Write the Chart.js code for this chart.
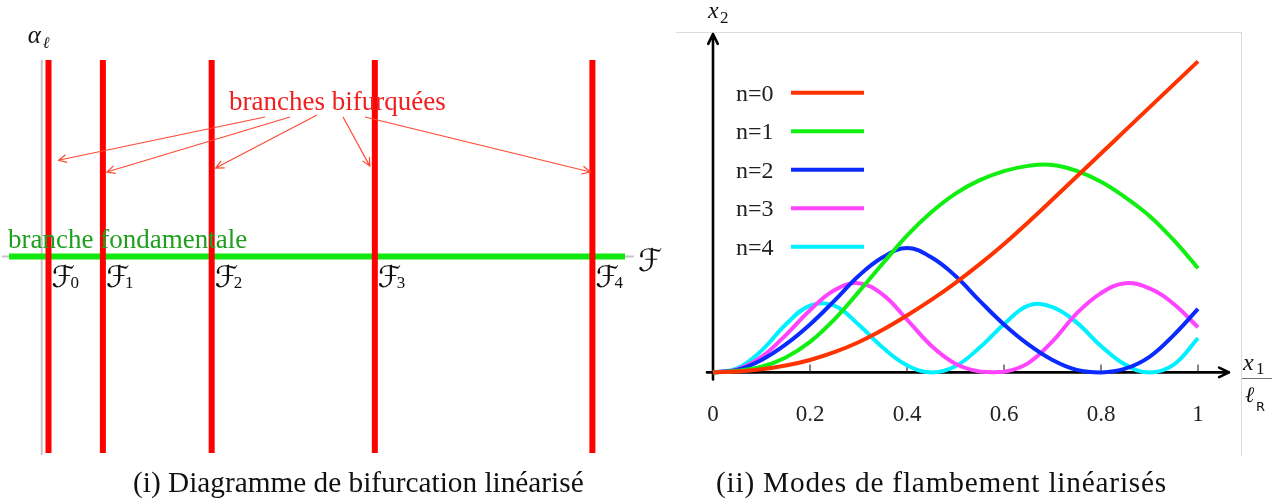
<!DOCTYPE html>
<html lang="fr">
<head>
<meta charset="utf-8">
<title>Bifurcation et modes de flambement</title>
<script src="https://cdn.jsdelivr.net/npm/chart.js@4.4.1/dist/chart.umd.min.js"></script>
<style>
  html, body { margin: 0; padding: 0; background: #fff; }
  body { width: 1282px; height: 504px; position: relative; overflow: hidden; }
  #bifurcation { position: absolute; left: 0; top: 0; }
  #modes { position: absolute; left: 640px; top: 0; }
  .frame { position: absolute; left: 676px; top: 32px; width: 565px; height: 423px; border-top: 1px solid #dcdcdc; border-right: 1px solid #dcdcdc; }
  .caption { position: absolute; top: 468px; font: 29.3px/1 "Liberation Serif", serif; color: #111; white-space: nowrap; }
</style>
</head>
<body>
<canvas id="bifurcation" width="680" height="470"></canvas>
<div class="frame"></div>
<canvas id="modes" width="642" height="470"></canvas>
<div class="caption" style="left:133px">(i) Diagramme de bifurcation linéarisé</div>
<div class="caption" style="left:716px; letter-spacing:0.8px">(ii) Modes de flambement linéarisés</div>

<script>
const criticalLoads = [0.25, 2.25, 6.25, 12.25, 20.25];
const loadIndices = ["0", "1", "2", "3", "4"];
// étendue des branches bifurquées (alpha) et de la branche fondamentale (F)
const alphaRange = [-1, 1];
const fundamentalRange = [-1.2, 21.45];
// hauteur où les flèches touchent chaque branche bifurquée
const arrowAlpha = [0.49, 0.43, 0.45, 0.46, 0.43];

// (ii) modes de flambement, x1 / lR
const x1 = [0, 0.05, 0.1, 0.15, 0.2, 0.25, 0.3, 0.35, 0.4, 0.45, 0.5, 0.55, 0.6, 0.65, 0.7, 0.75, 0.8, 0.85, 0.9, 0.95, 1];
const mode0 = [0, 0.003, 0.01, 0.022, 0.04, 0.065, 0.097, 0.137, 0.183, 0.233, 0.288, 0.348, 0.413, 0.483, 0.556, 0.63, 0.704, 0.778, 0.852, 0.926, 1.0];
const mode1 = [0, 0.005, 0.018, 0.048, 0.098, 0.17, 0.258, 0.35, 0.44, 0.515, 0.575, 0.618, 0.647, 0.664, 0.667, 0.648, 0.613, 0.563, 0.503, 0.425, 0.335];
const mode2 = [0, 0.008, 0.04, 0.09, 0.154, 0.23, 0.31, 0.37, 0.4, 0.37, 0.31, 0.23, 0.154, 0.09, 0.04, 0.008, 0, 0.012, 0.05, 0.12, 0.204];
const mode3 = [0, 0.01, 0.05, 0.12, 0.2, 0.264, 0.287, 0.25, 0.17, 0.086, 0.028, 0.003, 0.002, 0.03, 0.1, 0.19, 0.255, 0.287, 0.27, 0.22, 0.145];
const mode4 = [0, 0.013, 0.07, 0.154, 0.215, 0.215, 0.154, 0.08, 0.023, 0, 0.02, 0.08, 0.155, 0.215, 0.21, 0.16, 0.085, 0.025, 0, 0.025, 0.11];
const modeLabels = ["n=0", "n=1", "n=2", "n=3", "n=4"];
const xTicks = [0, 0.2, 0.4, 0.6, 0.8, 1];

const modeColors = ["#ff3300", "#11ee11", "#0a2aff", "#ff44ff", "#00f0ff"];
const serif = '"Liberation Serif", serif';

function arrow(ctx, x0, y0, x1, y1, size) {
  const a = Math.atan2(y1 - y0, x1 - x0);
  ctx.beginPath();
  ctx.moveTo(x0, y0);
  ctx.lineTo(x1, y1);
  ctx.moveTo(x1 - size * Math.cos(a - 0.45), y1 - size * Math.sin(a - 0.45));
  ctx.lineTo(x1, y1);
  ctx.lineTo(x1 - size * Math.cos(a + 0.45), y1 - size * Math.sin(a + 0.45));
  ctx.stroke();
}

// ---------- (i) diagramme de bifurcation ----------
const bifurcationDecor = {
  id: "bifurcationDecor",
  beforeDatasetsDraw(chart) {
    const { ctx, chartArea, scales: { x, y } } = chart;
    const x0 = x.getPixelForValue(0);
    const y0 = y.getPixelForValue(0);
    ctx.save();
    ctx.strokeStyle = "#c6c6c6";
    ctx.lineWidth = 2;
    ctx.beginPath();
    ctx.moveTo(x0, chartArea.top);
    ctx.lineTo(x0, chartArea.bottom + 2);
    ctx.moveTo(chartArea.left, y0);
    ctx.lineTo(chartArea.right, y0);
    ctx.stroke();
    ctx.restore();
  },
  afterDatasetsDraw(chart) {
    const { ctx, scales: { x, y } } = chart;
    const x0 = x.getPixelForValue(0);
    const y0 = y.getPixelForValue(0);
    ctx.save();

    // alpha_l
    ctx.fillStyle = "#111";
    ctx.font = "italic 25px " + serif;
    ctx.fillText("α", x0 - 14, 43);
    ctx.font = "italic 16px " + serif;
    ctx.fillText("ℓ", x0 + 1, 48);

    // axe F
    ctx.font = "italic 31px 'DejaVu Serif', 'DejaVu Sans'";
    ctx.fillText("ℱ", x.getPixelForValue(fundamentalRange[1]) + 13, y0 + 14);

    // F_n
    criticalLoads.forEach((f, i) => {
      const px = x.getPixelForValue(f) + 3;
      ctx.font = "italic 30px 'DejaVu Serif', 'DejaVu Sans'";
      ctx.fillText("ℱ", px, y0 + 30);
      ctx.font = "17px " + serif;
      ctx.fillText(loadIndices[i], px + 19, y0 + 31);
    });

    // textes
    ctx.font = "27px " + serif;
    ctx.fillStyle = "#1f9f1f";
    ctx.fillText("branche fondamentale", 8, y0 - 9);
    const tx = 229, ty = 110;
    ctx.fillStyle = "#ee2020";
    ctx.fillText("branches bifurquées", tx, ty);

    // flèches
    const starts = [[36, 7], [61, 7], [88, 5], [114, 7], [136, 7]];
    const tipShift = [10, 4, 4, -5, -2];
    ctx.strokeStyle = "#ff4a33";
    ctx.lineWidth = 1.2;
    criticalLoads.forEach((f, i) => {
      arrow(ctx, tx + starts[i][0], ty + starts[i][1],
        x.getPixelForValue(f) + tipShift[i], y.getPixelForValue(arrowAlpha[i]), 9);
    });
    ctx.restore();
  }
};

new Chart(document.getElementById("bifurcation"), {
  type: "scatter",
  data: {
    datasets: [
      ...criticalLoads.map((f) => ({
        data: alphaRange.map((a) => ({ x: f, y: a })),
        borderColor: "#ff0000",
        borderWidth: 6,
        showLine: true,
        pointRadius: 0,
        clip: false,
      })),
      {
        data: fundamentalRange.map((f) => ({ x: f, y: 0 })),
        borderColor: "#10e810",
        borderWidth: 6,
        showLine: true,
        pointRadius: 0,
        clip: false,
      },
    ],
  },
  options: {
    responsive: false,
    animation: false,
    events: [],
    layout: { padding: { left: 2, right: 46, top: 60, bottom: 17 } },
    scales: {
      x: { type: "linear", min: -1.46, max: 21.78, display: false },
      y: { min: -1, max: 1, display: false },
    },
    plugins: { legend: { display: false }, tooltip: { enabled: false } },
  },
  plugins: [bifurcationDecor],
});

// ---------- (ii) modes de flambement ----------
const modeDecor = {
  id: "modeDecor",
  beforeDatasetsDraw(chart) {
    const { ctx, chartArea, scales: { x, y } } = chart;
    const x0 = x.getPixelForValue(0);
    const y0 = y.getPixelForValue(0);
    const xEnd = x.getPixelForValue(1) + 31;
    const yEnd = chartArea.top;
    ctx.save();
    // graduations
    ctx.strokeStyle = "#444";
    ctx.lineWidth = 1.3;
    ctx.beginPath();
    xTicks.slice(1).forEach((v) => {
      const px = x.getPixelForValue(v);
      ctx.moveTo(px, y0 - 8);
      ctx.lineTo(px, y0);
    });
    ctx.stroke();
    // axes avec flèches
    ctx.strokeStyle = "#000";
    ctx.lineWidth = 2.6;
    ctx.lineCap = "round";
    ctx.lineJoin = "round";
    arrow(ctx, x0 - 6, y0, xEnd, y0, 11);
    arrow(ctx, x0, y0 + 7, x0, yEnd, 11);
    ctx.restore();
  },
  afterDatasetsDraw(chart) {
    const { ctx, scales: { x } } = chart;
    const x0 = x.getPixelForValue(0);
    const xR = x.getPixelForValue(1);
    ctx.save();

    // légende
    chart.data.datasets.forEach((ds, i) => {
      const yy = 92.7 + i * 38.5;
      ctx.font = "24px " + serif;
      ctx.fillStyle = "#222";
      ctx.fillText(ds.label, x0 + 23, yy + 8);
      ctx.strokeStyle = ds.borderColor;
      ctx.lineWidth = 4;
      ctx.beginPath();
      ctx.moveTo(x0 + 78, yy);
      ctx.lineTo(x0 + 151, yy);
      ctx.stroke();
    });

    // x2
    ctx.fillStyle = "#111";
    ctx.font = "italic 24px " + serif;
    ctx.fillText("x", x0 - 5, 18);
    ctx.font = "17px " + serif;
    ctx.fillText("2", x0 + 7, 23);

    // x1 / lR
    const fx = xR + 45;
    ctx.font = "italic 24px " + serif;
    ctx.fillText("x", fx, 370);
    ctx.font = "17px " + serif;
    ctx.fillText("1", fx + 13, 374);
    ctx.strokeStyle = "#777";
    ctx.lineWidth = 1;
    ctx.beginPath();
    ctx.moveTo(fx - 1, 378.5);
    ctx.lineTo(fx + 29, 378.5);
    ctx.stroke();
    ctx.font = "italic 22px " + serif;
    ctx.fillText("ℓ", fx + 2, 402);
    ctx.font = "13px 'DejaVu Sans', sans-serif";
    ctx.fillText("R", fx + 13, 411);
    ctx.restore();
  }
};

new Chart(document.getElementById("modes"), {
  type: "line",
  data: {
    datasets: [mode0, mode1, mode2, mode3, mode4].map((m, i) => ({
      label: modeLabels[i],
      data: m.map((v, k) => ({ x: x1[k], y: v })),
      borderColor: modeColors[i],
      borderWidth: 4,
      pointRadius: 0,
      tension: 0.4,
      fill: false,
      clip: false,
    })),
  },
  options: {
    responsive: false,
    animation: false,
    events: [],
    layout: { padding: { left: 73, right: 84, top: 34, bottom: 20 } },
    scales: {
      x: {
        type: "linear",
        min: 0,
        max: 1,
        afterBuildTicks: (scale) => { scale.ticks = xTicks.map((v) => ({ value: v })); },
        ticks: {
          padding: 21,
          color: "#222",
          font: { family: "Liberation Serif", size: 23 },
          callback: (v) => String(v),
        },
        grid: { display: false },
        border: { display: false },
      },
      y: { min: 0, max: 1.088, display: false },
    },
    plugins: { legend: { display: false }, tooltip: { enabled: false } },
  },
  plugins: [modeDecor],
});
</script>
</body>
</html>
